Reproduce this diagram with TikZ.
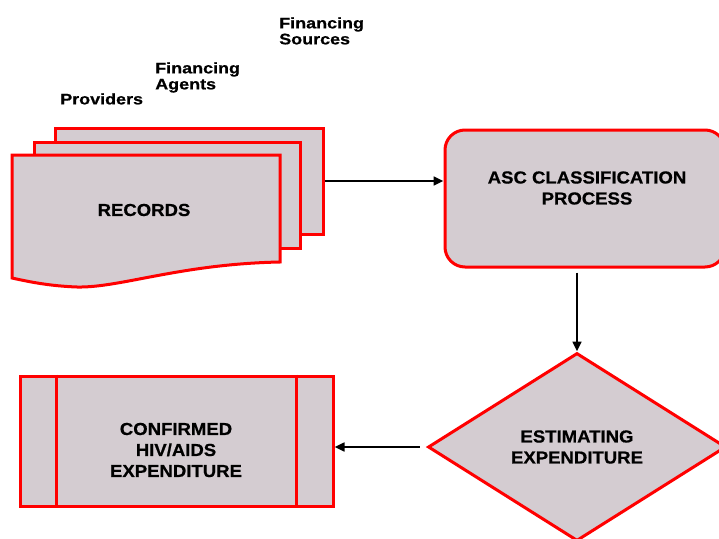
\documentclass[tikz,border=0pt]{standalone}
\usepackage{fontspec}
\setmainfont{Liberation Sans}
\newfontfamily\tagfont{Liberation Sans}[FakeStretch=1.17, FakeBold=0.6]
\newfontfamily\boxfont{Liberation Sans}[FakeStretch=1.07, FakeBold=0.6]
\usetikzlibrary{positioning,arrows.meta,shapes.geometric}
\definecolor{sheetgray}{HTML}{D4CCD1}
\definecolor{edgered}{HTML}{FF0000}

\tikzset{
  panel/.style={draw=edgered, fill=sheetgray, line width=2.25pt},
  sheet/.style={panel, rectangle, inner sep=0pt},
  boxtext/.style={font=\boxfont\fontsize{13}{15.75}\selectfont\bfseries, align=center},
  tag/.style={font=\tagfont\fontsize{11.5}{12}\selectfont\bfseries, align=left, anchor=north west, inner sep=0pt},
  flow/.style={-{Triangle[length=7.5pt,width=6.5pt]}, line width=1.9pt},
}

\begin{document}
\begin{tikzpicture}[x=0.75pt,y=-0.75pt]
    \useasboundingbox (0,0) rectangle (719,539);

    % Labels over the stack
    \node[tag] (sources) at (279,17) {Financing\\Sources};
    \node[tag] (agents) at (155,62) {Financing\\Agents};
    \node[tag] (providers) at (60,93) {Providers};

    % Records stack
    \node[sheet, minimum width=201pt, minimum height=79.5pt] (sheetback) at (189,181) {};
    \node[sheet, minimum width=199.5pt, minimum height=79.5pt] (sheetmid) at (167,195) {};
    \draw[panel] (12,155) -- (280,155) -- (280,262)
        .. controls (180,264) and (120,288) .. (77,287)
        .. controls (50,286) and (30,282) .. (12,278) -- cycle;
    \node[boxtext] (records) at (144,210) {RECORDS};

    % Classification
    \node[sheet, rounded corners=15pt, minimum width=210pt, minimum height=102.75pt] (asc) at (585,198.5) {};
    \node[boxtext] (asctext) at (587,188) {ASC CLASSIFICATION\\PROCESS};

    % Estimating
    \node[panel, diamond, boxtext, inner sep=0pt, minimum width=223.5pt, minimum height=141pt] (estimate) at (577,447) {ESTIMATING\\EXPENDITURE};

    % Confirmed expenditure
    \node[sheet, minimum width=234.75pt, minimum height=97.5pt] (confirmed) at (176.5,441) {};
    \draw[draw=edgered, line width=2.25pt] ([xshift=28.5pt]confirmed.north west) -- ([xshift=28.5pt]confirmed.south west);
    \draw[draw=edgered, line width=2.25pt] ([xshift=-28.5pt]confirmed.north east) -- ([xshift=-28.5pt]confirmed.south east);
    \node[boxtext] (conftext) at (176,450) {CONFIRMED\\HIV/AIDS\\EXPENDITURE};

    % Flow arrows
    \draw[flow] (sheetback.east) -- (sheetback.east -| asc.west);
    \draw[flow, shorten <=3pt] (asc.south -| estimate.north) -- (estimate.north);
    \draw[flow, shorten <=5pt] (estimate.west) -- (estimate.west -| confirmed.east);
\end{tikzpicture}
\end{document}
